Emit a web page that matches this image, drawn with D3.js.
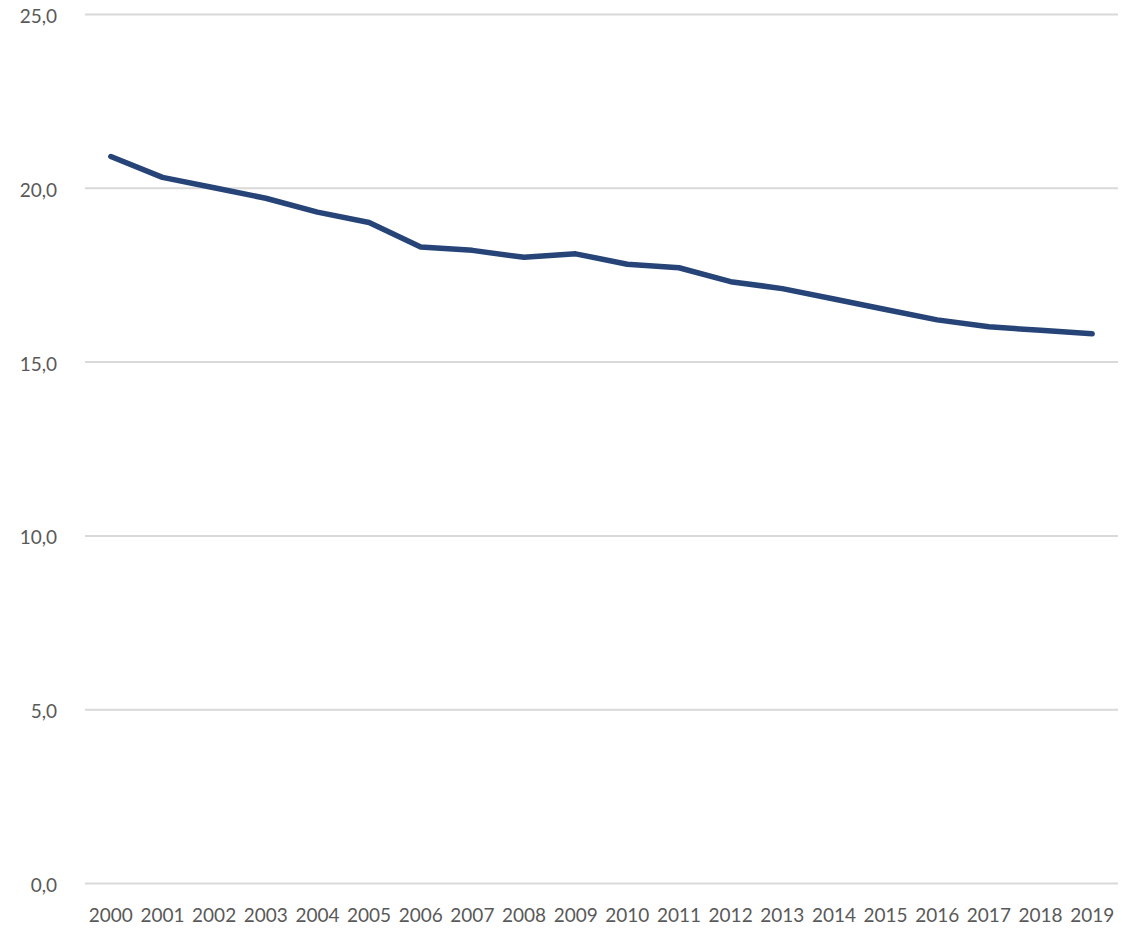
<!DOCTYPE html>
<html><head><meta charset="utf-8">
<script src="https://cdn.jsdelivr.net/npm/d3@7"></script>
<style>
html,body{margin:0;padding:0;background:#fff;}
svg{display:block;}
text{font-family:Lato,"Open Sans",sans-serif;fill:#595959;}
</style></head>
<body><svg id="chart" width="1122" height="929"></svg>
<script>
const years = ["2000","2001","2002","2003","2004","2005","2006","2007","2008","2009","2010","2011","2012","2013","2014","2015","2016","2017","2018","2019"];
const values = [20.9,20.3,20.0,19.7,19.3,19.0,18.3,18.2,18.0,18.1,17.8,17.7,17.3,17.1,16.8,16.5,16.2,16.0,15.9,15.8];
const yTicks = [0,5,10,15,20,25];

(function(){
const svg = d3.select("#chart");
const mLeft = 85, mRight = 1118, mTop = 14, mBottom = 883;
const x = d3.scaleBand().domain(years).range([mLeft, mRight]);
const y = d3.scaleLinear().domain([0,25]).range([mBottom, mTop]);
const fmt = v => d3.format(".1f")(v).replace(".", ",");

const gy = svg.append("g").attr("transform", `translate(${mLeft},0)`)
  .call(d3.axisLeft(y).tickValues(yTicks).tickSize(-(mRight-mLeft)).tickPadding(28).tickFormat(fmt));
gy.select(".domain").remove();
gy.selectAll(".tick line").attr("stroke", "#d9d9d9").attr("stroke-width", 2);
gy.selectAll(".tick text").attr("font-size", 19).attr("dy", "0.45em").attr("font-family", "Lato, 'Open Sans', sans-serif").attr("fill", "#595959");

const gx = svg.append("g").attr("transform", `translate(0,${mBottom})`)
  .call(d3.axisBottom(x).tickSize(0).tickPadding(26));
gx.select(".domain").remove();
gx.selectAll(".tick text").attr("font-size", 19).attr("font-family", "Lato, 'Open Sans', sans-serif").attr("fill", "#595959");

const line = d3.line().x((d,i) => x(years[i]) + x.bandwidth()/2).y(d => y(d));
svg.append("path").datum(values).attr("d", line)
  .attr("fill", "none").attr("stroke", "#264478").attr("stroke-width", 5.5)
  .attr("stroke-linejoin", "round").attr("stroke-linecap", "round");
})();
</script></body></html>
